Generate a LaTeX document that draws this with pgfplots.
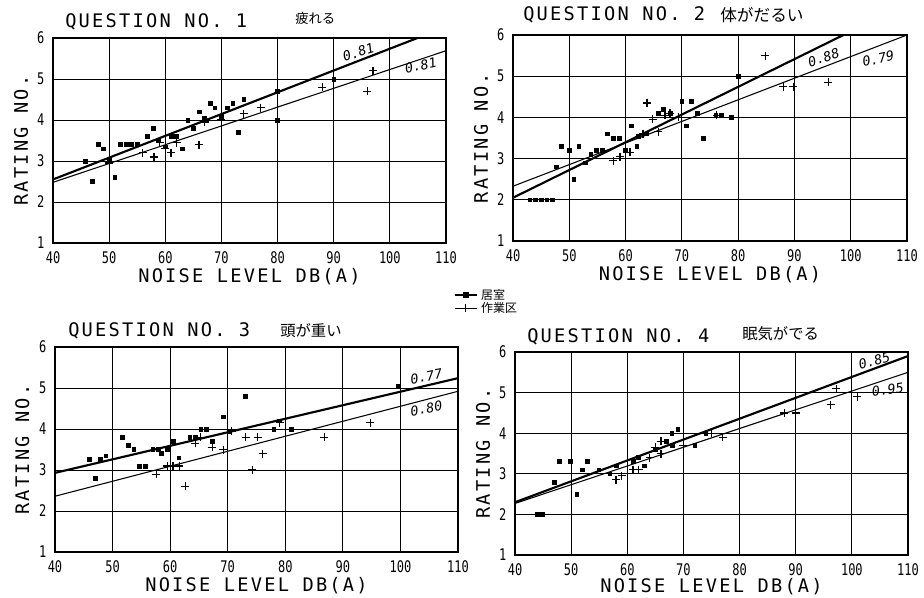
\documentclass[border=0pt]{standalone}
\usepackage{pgfplots}
\pgfplotsset{compat=1.18}
\usepackage{fontspec}
\setmainfont{DejaVu Sans}
\newfontfamily\plotf{DejaVu Sans Mono}
\newfontfamily\tickfam[FakeStretch=0.75]{DejaVu Sans Mono}
\newfontfamily\cjk{Noto Sans CJK JP}
\newcommand{\bigf}{\plotf\addfontfeature{LetterSpace=12}\fontsize{14}{14}\selectfont}
\newcommand{\tickf}{\tickfam\fontsize{12}{12}\selectfont}
\pgfplotsset{
  panel/.style={
    scale only axis, anchor=south west,
    xmin=40, xmax=110, ymin=1, ymax=6,
    xtick={40,50,...,110}, ytick={1,2,...,6},
    grid=major, major grid style={black, line width=0.6pt},
    axis line style={line width=1.1pt},
    tick style={draw=none},
    /pgf/number format/assume math mode=true,
    ticklabel style={font=\tickf},
    xticklabel style={inner sep=1pt, yshift=-5.5pt},
    yticklabel style={xshift=-3pt},
    xlabel={NOISE LEVEL DB(A)}, ylabel={RATING NO.},
    xlabel style={font=\bigf, inner sep=0pt, at={(axis description cs:0.5,-0.165)}, anchor=center},
    ylabel style={font=\bigf, at={(axis description cs:-0.081,0.5)}, anchor=center},
  },
  room/.style={only marks, mark=square*, mark size=1.4pt, black},
  work/.style={only marks, mark=+, mark size=3pt, black, mark options={line width=0.9pt}},
  thickl/.style={black, line width=1.6pt, no marks},
  thinl/.style={black, line width=0.8pt, no marks},
}
\tikzset{rlab/.style={font=\itshape\plotf\fontsize{10}{10}\selectfont, inner sep=1pt}}
\begin{document}
\begin{tikzpicture}
\useasboundingbox (0,0) rectangle (693pt,447.75pt);

% Panel 1
\begin{axis}[panel, at={(39.75pt,265.5pt)}, width=294.75pt, height=153.75pt,
  legend style={at={(rel axis cs:1.015,-0.205)}, anchor=north west, draw=none, fill=none,
    font=\cjk\fontsize{9}{9}\selectfont, row sep=-3.5pt, inner sep=1pt},
  legend cell align=left]
\addplot[room, forget plot] coordinates {(45.8,3.0)(47,2.5)(48,3.4)(49,3.3)(50,3.05)(51,2.6)(52,3.4)(53,3.4)(54,3.4)(55,3.4)(56.8,3.6)(57.9,3.8)(58.8,3.5)(60,3.35)(61,3.6)(62,3.6)(63,3.3)(64,4.0)(65,3.8)(66,4.2)(67,4.05)(68,4.4)(68.8,4.3)(70,4.1)(71,4.3)(72,4.4)(73,3.7)(74,4.5)(80,4.7)(80,4.0)(90,5.0)};
\addplot[work, forget plot] coordinates {(50,2.95)(56,3.2)(58,3.1)(59,3.45)(60,3.3)(61,3.2)(62,3.45)(66,3.4)(67,3.95)(70,4.0)(74,4.15)(77,4.3)(88,4.8)(96,4.7)(97,5.2)};
\addplot[thickl, forget plot] coordinates {(40,2.55)(110,6.27)};
\addplot[thinl, forget plot] coordinates {(40,2.48)(110,5.69)};
\node[rlab, rotate=18] at (axis cs:94.4,5.66) {0.81};
\node[rlab, rotate=12] at (axis cs:105.5,5.33) {0.81};
\addlegendimage{black, line width=1.6pt, mark=square*, mark size=1.4pt}
\addlegendentry{居室}
\addlegendimage{black, line width=0.8pt, mark=+, mark size=3pt}
\addlegendentry{作業区}
\end{axis}

% Panel 2
\begin{axis}[panel, at={(384.75pt,267pt)}, width=295.5pt, height=154.5pt]
\addplot[room] coordinates {(43,2)(44,2)(45,2)(46,2)(47,2)(47.7,2.8)(48.6,3.3)(50,3.2)(50.8,2.5)(51.7,3.3)(52.8,2.9)(53.8,3.1)(54.8,3.2)(55.9,3.2)(56.8,3.6)(57.8,3.5)(58.9,3.5)(60,3.2)(61,3.8)(62,3.3)(62.3,3.55)(63.7,3.6)(65.8,4.1)(66.7,4.2)(67.9,4.1)(70,4.4)(70.8,3.8)(71.7,4.4)(72.8,4.1)(73.8,3.5)(76,4.05)(77,4.05)(78.8,4.0)(80,5.0)};
\addplot[work] coordinates {(57.8,2.95)(59,3.05)(60.8,3.15)(63.1,3.6)(63.8,4.35)(64.8,3.95)(65.8,3.65)(67,4.05)(67.9,4.1)(69.4,4.0)(76.2,4.05)(84.8,5.5)(88,4.75)(89.8,4.75)(96,4.85)};
\addplot[thickl] coordinates {(40,2.05)(110,6.76)};
\addplot[thinl] coordinates {(40,2.33)(110,6.0)};
\node[rlab, rotate=18] at (axis cs:95.2,5.45) {0.88};
\node[rlab, rotate=12] at (axis cs:104.9,5.42) {0.79};
\end{axis}

% Panel 3
\begin{axis}[panel, at={(41.25pt,33.75pt)}, width=302.25pt, height=153.75pt]
\addplot[room] coordinates {(46,3.27)(47,2.8)(47.8,3.27)(48.8,3.35)(51.7,3.8)(52.7,3.6)(53.7,3.5)(54.6,3.1)(55.7,3.1)(57,3.5)(57.9,3.5)(58.5,3.4)(59.5,3.5)(60.5,3.7)(61.5,3.3)(63.4,3.8)(64.4,3.8)(65.3,4.0)(66.3,4.0)(67.3,3.7)(69.2,4.3)(70.2,3.95)(73.1,4.8)(78,4.0)(79,4.2)(81,4.0)(99.6,5.05)};
\addplot[work] coordinates {(57.6,2.9)(59.5,3.1)(60.5,3.1)(61.6,3.1)(62.6,2.6)(64.4,3.65)(65.3,3.8)(67.3,3.55)(69.2,3.5)(70.7,3.95)(73.1,3.8)(74.3,3.0)(75.2,3.8)(76.1,3.4)(79,4.15)(86.8,3.8)(94.8,4.15)};
\addplot[thickl] coordinates {(40,2.93)(110,5.24)};
\addplot[thinl] coordinates {(40,2.36)(110,4.92)};
\node[rlab, rotate=10] at (axis cs:104.5,5.28) {0.77};
\node[rlab, rotate=10] at (axis cs:104.5,4.5) {0.80};
\end{axis}

% Panel 4
\begin{axis}[panel, at={(386.25pt,31.5pt)}, width=294.75pt, height=152.25pt,
  xlabel style={at={(axis description cs:0.5,-0.155)}}]
\addplot[room] coordinates {(43.9,2)(44.9,2)(47,2.8)(47.9,3.3)(49.9,3.3)(51,2.5)(52,3.1)(52.9,3.3)(54.9,3.1)(56.9,3.0)(58,3.2)(61,3.3)(62,3.4)(63,3.2)(65,3.6)(67,3.8)(67.9,4.0)(69,4.1)(68,3.7)(72,3.7)(74,4.0)};
\addplot[work] coordinates {(58,2.85)(59,2.95)(60,3.0)(61,3.1)(62,3.1)(64,3.4)(65,3.65)(66,3.8)(66,3.5)(70,3.7)(75,4.0)(77,3.9)(88,4.5)(90,4.5)(96.2,4.7)(97.2,5.1)(101,4.9)};
\addplot[thickl] coordinates {(40,2.3)(110,5.9)};
\addplot[thinl] coordinates {(40,2.27)(110,5.5)};
\node[rlab, rotate=15] at (axis cs:104,5.78) {0.85};
\node[rlab, rotate=8] at (axis cs:106.4,5.07) {0.95};
\end{axis}

% Titles
\node[anchor=west, inner sep=0pt, font=\bigf] at (48.75pt,431.25pt) {QUESTION NO. 1};
\node[anchor=west, inner sep=0pt, font=\cjk\fontsize{10}{10}\selectfont] at (221.25pt,434.25pt) {疲れる};
\node[anchor=west, inner sep=0pt, font=\bigf] at (392.25pt,436.5pt) {QUESTION NO. 2};
\node[anchor=west, inner sep=0pt, font=\cjk\fontsize{12.5}{12.5}\selectfont] at (540pt,436.5pt) {体がだるい};
\node[anchor=west, inner sep=0pt, font=\bigf] at (51pt,199.5pt) {QUESTION NO. 3};
\node[anchor=west, inner sep=0pt, font=\cjk\fontsize{11.5}{11.5}\selectfont] at (210pt,199.5pt) {頭が重い};
\node[anchor=west, inner sep=0pt, font=\bigf] at (395.25pt,195pt) {QUESTION NO. 4};
\node[anchor=west, inner sep=0pt, font=\cjk\fontsize{11.5}{11.5}\selectfont] at (556.5pt,197.25pt) {眠気がでる};
\end{tikzpicture}
\end{document}
